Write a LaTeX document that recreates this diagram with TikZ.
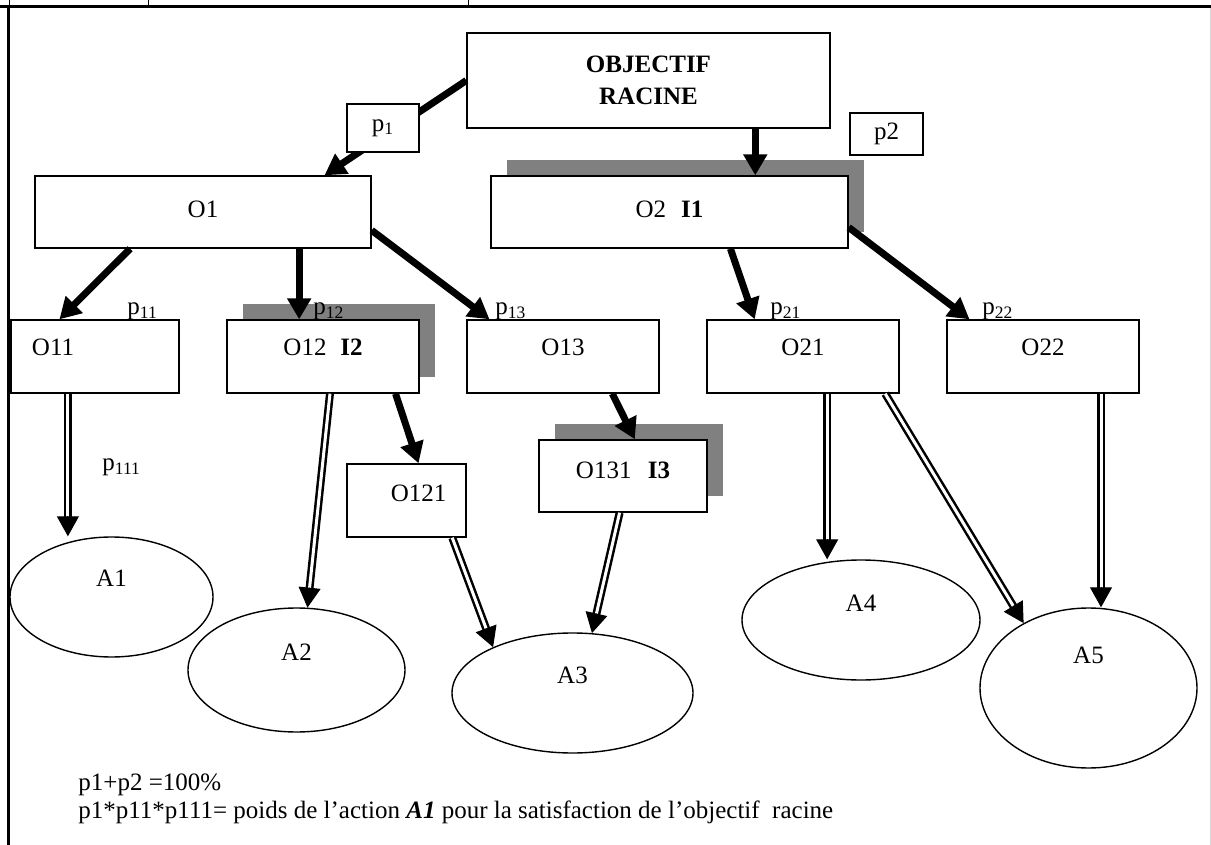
\documentclass[tikz,border=0pt]{standalone}
\usepackage{fontspec}
\setmainfont{Liberation Serif}
\usetikzlibrary{calc,arrows.meta,shapes.geometric,shadows}

\tikzset{
  obox/.style={draw, fill=white, line width=0.7pt, inner sep=0pt,
    text height=9pt, text depth=#1},
  obox/.default=9.6pt,
  ombre/.style={drop shadow={shadow xshift=8pt, shadow yshift=8pt,
    fill=black!50, opacity=1}},
  action/.style={ellipse, draw, fill=white, line width=0.7pt, inner sep=0pt,
    text height=9pt, text depth=#1},
  fleche/.style={line width=3.5pt, -{Triangle[width=11.5pt,length=10.5pt]}},
  dtrait/.style={line width=1.25pt, double=white, double distance=1.5pt,
    shorten >=9pt},
  dtete/.style={line width=0.5pt, -{Triangle[width=11pt,length=10pt]}},
  poids/.style={inner sep=0pt, anchor=base west}
}
\newcommand\dfleche[2]{%
  \draw[dtrait] (#1) -- (#2);
  \draw[dtete] ($(#2)!10pt!(#1)$) -- (#2);}

\begin{document}
\begin{tikzpicture}[x=0.5pt, y=-0.5pt, font=\fontsize{12.5}{15}\selectfont]
  \useasboundingbox (0,0) rectangle (1211,845);
  %%%%% cadre %%%%%
  \draw[line width=1.5pt] (0,6.5) -- (1211,6.5);
  \draw[line width=1.5pt] (8.5,5) -- (8.5,845);
  \foreach \x in {9,148,468}
    \draw[line width=0.5pt] (\x,0) -- (\x,6);
  \draw[black!15, line width=0.5pt] (1210,8) -- (1210,845);

  %%%%% objectifs %%%%%
  \node[draw, fill=white, line width=0.7pt, minimum width=181.5pt, minimum height=47.5pt,
    align=center, font=\fontsize{12.5}{16}\selectfont\bfseries] (racine) at (648.5,80.5) {OBJECTIF\\RACINE};
  \node[obox=3.6pt, minimum width=168pt, minimum height=36pt] (o1) at (203,212) {O1};
  \node[obox=3.6pt, ombre, minimum width=178.5pt, minimum height=36pt] (o2) at (669.5,212) {O2\hspace{.6em}\textbf{I1}};

  \node[obox, minimum width=84pt, minimum height=36.5pt, text width=63pt, align=left] (o11) at (95,356.5) {O11};
  \node[obox, ombre, minimum width=96pt, minimum height=36.5pt] (o12) at (323,356.5) {O12\hspace{.55em}\textbf{I2}};
  \node[obox, minimum width=96pt, minimum height=36.5pt] (o13) at (563,356.5) {O13};
  \node[obox, minimum width=96pt, minimum height=36.5pt] (o21) at (803,356.5) {O21};
  \node[obox, minimum width=96pt, minimum height=36.5pt] (o22) at (1043,356.5) {O22};

  \node[obox=7.6pt, minimum width=59.5pt, minimum height=36.5pt, text width=40pt, align=right] (o121) at (406.5,500.5) {O121};
  \node[obox=6.6pt, ombre, minimum width=84pt, minimum height=36pt] (o131) at (623,476) {O131\hspace{.65em}\textbf{I3}};

  %%%%% actions %%%%%
  \node[action=19.6pt, minimum width=101.5pt, minimum height=60pt] (a1) at (111.5,597) {A1};
  \node[action=18.6pt, minimum width=108.5pt, minimum height=62pt] (a2) at (296.5,670) {A2};
  \node[action=18.6pt, minimum width=120.5pt, minimum height=60pt] (a3) at (572.5,693) {A3};
  \node[action=17.6pt, minimum width=119pt, minimum height=60pt] (a4) at (861,620) {A4};
  \node[action=33.6pt, minimum width=108.5pt, minimum height=80pt] (a5) at (1088.5,688) {A5};

  %%%%% decomposition %%%%%
  \draw[fleche] (racine.west) -- ($(o1.north west)!.86!(o1.north east)$);
  \draw[fleche] ($(racine.south west)!.793!(racine.south east)$) coordinate (r2) -- (r2 |- o2.north);
  \draw[fleche] ($(o1.south west)!.284!(o1.south east)$) -- ($(o11.north west)!.29!(o11.north east)$);
  \draw[fleche] ($(o1.south west)!.785!(o1.south east)$) coordinate (r12) -- (r12 |- o12.north);
  \draw[fleche] ($(o1.north east)!.75!(o1.south east)$) -- ($(o13.north west)!.12!(o13.north east)$);
  \draw[fleche] ($(o2.south west)!.67!(o2.south east)$) -- ($(o21.north west)!.25!(o21.north east)$);
  \draw[fleche] ($(o2.north east)!.71!(o2.south east)$) -- ($(o22.north west)!.12!(o22.north east)$);
  \draw[fleche] ($(o12.south west)!.875!(o12.south east)$) -- ($(o121.north west)!.6!(o121.north east)$);
  \draw[fleche] ($(o13.south west)!.755!(o13.south east)$) -- ($(o131.north west)!.57!(o131.north east)$);

  \node[draw, fill=white, line width=0.7pt, minimum width=36pt, minimum height=24pt] (p1) at (383,128) {p\textsubscript{1}};
  \node[draw, fill=white, line width=0.7pt, minimum width=36.5pt, minimum height=21pt] (p2) at (886.5,134) {p2};

  %%%%% contributions %%%%%
  \coordinate (d11) at ($(o11.south west)!.34!(o11.south east)$);
  \coordinate (d12) at ($(o12.south west)!.536!(o12.south east)$);
  \coordinate (d121) at ($(o121.south west)!.88!(o121.south east)$);
  \coordinate (d131) at ($(o131.south west)!.48!(o131.south east)$);
  \coordinate (d21) at ($(o21.south west)!.625!(o21.south east)$);
  \coordinate (d21b) at ($(o21.south west)!.925!(o21.south east)$);
  \coordinate (d22) at ($(o22.south west)!.8!(o22.south east)$);
  \dfleche{d11}{d11 |- a1.north}
  \dfleche{d12}{a2.80}
  \dfleche{d121}{a3.150}
  \dfleche{d131}{a3.72}
  \dfleche{d21}{d21 |- a4.north}
  \dfleche{d21b}{a5.135}
  \dfleche{d22}{d22 |- a5.north}

  %%%%% poids %%%%%
  \node[poids] (p11) at (127,315) {p\textsubscript{11}};
  \node[poids] (p12) at (313,315) {p\textsubscript{12}};
  \node[poids] (p13) at (495,315) {p\textsubscript{13}};
  \node[poids] (p21) at (770,315) {p\textsubscript{21}};
  \node[poids] (p22) at (982,315) {p\textsubscript{22}};
  \node[poids] (p111) at (102,471) {p\textsubscript{111}};

  \node[poids] (note1) at (78,790) {p1+p2 =100\%};
  \node[poids] (note2) at (78,818) {p1*p11*p111= poids de l’action \textbf{\textit{A1}} pour la satisfaction de l’objectif\ \ racine};
\end{tikzpicture}
\end{document}
